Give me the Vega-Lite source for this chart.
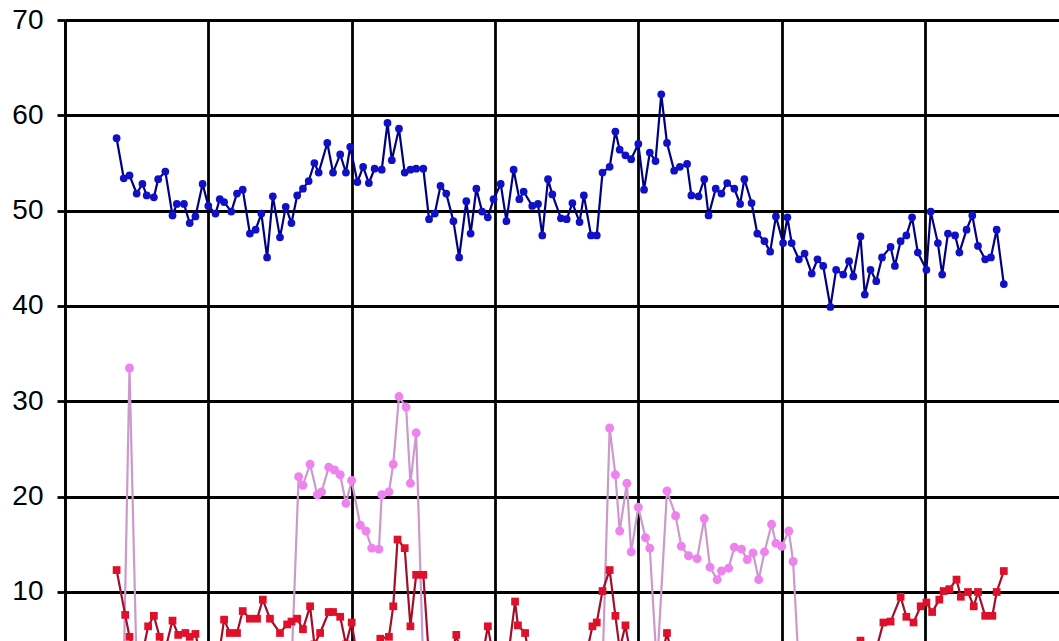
{
  "$schema": "https://vega.github.io/schema/vega-lite/v6.json",
  "autosize": {"type": "none"},
  "width": 994,
  "height": 621,
  "padding": {"left": 65, "top": 20, "right": 0, "bottom": 0},
  "background": "white",
  "config": {"view": {"stroke": null}},
  "datasets": {
    "blue": [
      {"t":3.6,"v":57.6},{"t":4.1,"v":53.4},{"t":4.5,"v":53.7},{"t":5.0,"v":51.8},{"t":5.4,"v":52.8},{"t":5.7,"v":51.6},{"t":6.2,"v":51.4},{"t":6.5,"v":53.3},{"t":7.0,"v":54.1},{"t":7.5,"v":49.5},{"t":7.8,"v":50.7},{"t":8.3,"v":50.7},{"t":8.7,"v":48.7},{"t":9.1,"v":49.4},{"t":9.6,"v":52.8},{"t":10.0,"v":50.5},{"t":10.5,"v":49.7},{"t":10.8,"v":51.2},{"t":11.1,"v":50.9},{"t":11.6,"v":49.9},{"t":12.0,"v":51.8},{"t":12.4,"v":52.2},{"t":12.9,"v":47.6},{"t":13.3,"v":48.0},{"t":13.7,"v":49.7},{"t":14.1,"v":45.1},{"t":14.5,"v":51.5},{"t":15.0,"v":47.2},{"t":15.4,"v":50.4},{"t":15.8,"v":48.7},{"t":16.2,"v":51.6},{"t":16.6,"v":52.3},{"t":17.0,"v":53.1},{"t":17.4,"v":55.0},{"t":17.7,"v":54.0},{"t":18.3,"v":57.1},{"t":18.7,"v":54.0},{"t":19.2,"v":55.9},{"t":19.6,"v":54.0},{"t":19.9,"v":56.7},{"t":20.4,"v":53.0},{"t":20.8,"v":54.6},{"t":21.2,"v":52.9},{"t":21.6,"v":54.4},{"t":22.1,"v":54.3},{"t":22.5,"v":59.2},{"t":22.8,"v":55.3},{"t":23.3,"v":58.6},{"t":23.7,"v":54.0},{"t":24.1,"v":54.3},{"t":24.5,"v":54.4},{"t":25.0,"v":54.4},{"t":25.4,"v":49.1},{"t":25.8,"v":49.7},{"t":26.2,"v":52.6},{"t":26.6,"v":51.8},{"t":27.1,"v":48.9},{"t":27.5,"v":45.1},{"t":28.0,"v":51.0},{"t":28.3,"v":47.6},{"t":28.7,"v":52.3},{"t":29.1,"v":49.9},{"t":29.5,"v":49.3},{"t":29.9,"v":51.2},{"t":30.4,"v":52.8},{"t":30.8,"v":48.9},{"t":31.3,"v":54.3},{"t":31.7,"v":51.2},{"t":32.0,"v":52.0},{"t":32.6,"v":50.5},{"t":33.0,"v":50.7},{"t":33.3,"v":47.4},{"t":33.7,"v":53.3},{"t":34.0,"v":51.7},{"t":34.6,"v":49.2},{"t":35.0,"v":49.1},{"t":35.4,"v":50.8},{"t":35.9,"v":48.8},{"t":36.2,"v":51.6},{"t":36.7,"v":47.4},{"t":37.1,"v":47.4},{"t":37.5,"v":54.0},{"t":38.0,"v":54.6},{"t":38.4,"v":58.3},{"t":38.7,"v":56.4},{"t":39.1,"v":55.8},{"t":39.5,"v":55.4},{"t":40.0,"v":57.0},{"t":40.4,"v":52.2},{"t":40.8,"v":56.1},{"t":41.2,"v":55.2},{"t":41.6,"v":62.2},{"t":42.0,"v":57.1},{"t":42.5,"v":54.2},{"t":42.9,"v":54.6},{"t":43.4,"v":54.9},{"t":43.7,"v":51.6},{"t":44.2,"v":51.5},{"t":44.6,"v":53.3},{"t":44.9,"v":49.5},{"t":45.4,"v":52.3},{"t":45.8,"v":51.8},{"t":46.2,"v":52.9},{"t":46.7,"v":52.3},{"t":47.1,"v":50.7},{"t":47.4,"v":53.3},{"t":47.9,"v":50.8},{"t":48.3,"v":47.6},{"t":48.8,"v":46.8},{"t":49.2,"v":45.7},{"t":49.6,"v":49.4},{"t":50.1,"v":46.6},{"t":50.4,"v":49.3},{"t":50.7,"v":46.6},{"t":51.2,"v":44.9},{"t":51.6,"v":45.5},{"t":52.1,"v":43.4},{"t":52.5,"v":44.9},{"t":52.9,"v":44.2},{"t":53.4,"v":39.9},{"t":53.8,"v":43.8},{"t":54.3,"v":43.3},{"t":54.7,"v":44.7},{"t":55.0,"v":43.1},{"t":55.5,"v":47.3},{"t":55.8,"v":41.2},{"t":56.2,"v":43.8},{"t":56.6,"v":42.6},{"t":57.0,"v":45.1},{"t":57.6,"v":46.2},{"t":57.9,"v":44.2},{"t":58.3,"v":46.8},{"t":58.7,"v":47.4},{"t":59.1,"v":49.3},{"t":59.5,"v":45.6},{"t":60.1,"v":43.8},{"t":60.4,"v":49.9},{"t":60.9,"v":46.6},{"t":61.2,"v":43.3},{"t":61.6,"v":47.6},{"t":62.1,"v":47.4},{"t":62.4,"v":45.6},{"t":62.9,"v":48.0},{"t":63.3,"v":49.5},{"t":63.7,"v":46.3},{"t":64.2,"v":44.9},{"t":64.6,"v":45.1},{"t":65.0,"v":48.0},{"t":65.5,"v":42.3}
    ],
    "violet": [
      {"t":3.6,"v":2},{"t":4.1,"v":2},{"t":4.5,"v":33.5},{"t":5.0,"v":2},{"t":15.8,"v":2},{"t":16.3,"v":22.1},{"t":16.6,"v":21.2},{"t":17.1,"v":23.4},{"t":17.6,"v":20.2},{"t":17.9,"v":20.5},{"t":18.4,"v":23.1},{"t":18.8,"v":22.8},{"t":19.2,"v":22.3},{"t":19.6,"v":19.3},{"t":20.0,"v":21.7},{"t":20.6,"v":17.0},{"t":21.0,"v":16.4},{"t":21.4,"v":14.6},{"t":21.9,"v":14.5},{"t":22.1,"v":20.2},{"t":22.6,"v":20.5},{"t":22.9,"v":23.4},{"t":23.3,"v":30.5},{"t":23.8,"v":29.4},{"t":24.1,"v":21.4},{"t":24.5,"v":26.7},{"t":25.0,"v":2},{"t":37.5,"v":2},{"t":38.0,"v":27.2},{"t":38.4,"v":22.3},{"t":38.7,"v":16.4},{"t":39.2,"v":21.4},{"t":39.5,"v":14.2},{"t":40.0,"v":18.9},{"t":40.5,"v":15.7},{"t":40.8,"v":14.6},{"t":41.3,"v":2},{"t":42.0,"v":20.6},{"t":42.6,"v":18.0},{"t":43.0,"v":14.8},{"t":43.5,"v":13.8},{"t":44.1,"v":13.5},{"t":44.6,"v":17.7},{"t":45.0,"v":12.6},{"t":45.5,"v":11.3},{"t":45.8,"v":12.2},{"t":46.3,"v":12.5},{"t":46.7,"v":14.7},{"t":47.2,"v":14.5},{"t":47.6,"v":13.4},{"t":48.0,"v":14.1},{"t":48.4,"v":11.3},{"t":48.8,"v":14.2},{"t":49.3,"v":17.1},{"t":49.6,"v":15.1},{"t":50.0,"v":14.8},{"t":50.5,"v":16.4},{"t":50.8,"v":13.2},{"t":51.2,"v":2},{"t":65.5,"v":2}
    ],
    "red": [
      {"t":3.6,"v":12.3},{"t":4.2,"v":7.6},{"t":4.5,"v":5.3},{"t":5.0,"v":3},{"t":5.4,"v":3.5},{"t":5.8,"v":6.4},{"t":6.2,"v":7.5},{"t":6.6,"v":5.3},{"t":7.0,"v":4},{"t":7.5,"v":7.0},{"t":7.9,"v":5.5},{"t":8.4,"v":5.7},{"t":8.7,"v":5.3},{"t":9.1,"v":5.6},{"t":9.5,"v":3},{"t":10.7,"v":3},{"t":11.1,"v":7.1},{"t":11.5,"v":5.7},{"t":12.0,"v":5.7},{"t":12.4,"v":8.0},{"t":12.9,"v":7.2},{"t":13.4,"v":7.2},{"t":13.8,"v":9.2},{"t":14.3,"v":7.2},{"t":15.0,"v":5.7},{"t":15.5,"v":6.6},{"t":15.8,"v":6.9},{"t":16.2,"v":7.2},{"t":16.6,"v":6.1},{"t":17.1,"v":8.5},{"t":17.4,"v":4.5},{"t":17.8,"v":5.7},{"t":18.4,"v":7.9},{"t":18.7,"v":7.9},{"t":19.2,"v":7.4},{"t":19.6,"v":4.5},{"t":20.0,"v":6.8},{"t":20.4,"v":3},{"t":21.6,"v":3},{"t":22.0,"v":5.1},{"t":22.6,"v":5.3},{"t":22.9,"v":8.5},{"t":23.2,"v":15.5},{"t":23.7,"v":14.6},{"t":24.1,"v":6.4},{"t":24.5,"v":11.8},{"t":25.0,"v":11.8},{"t":25.4,"v":3},{"t":26.9,"v":3},{"t":27.3,"v":5.5},{"t":27.7,"v":3},{"t":29.1,"v":3},{"t":29.5,"v":6.4},{"t":29.9,"v":3},{"t":30.9,"v":3},{"t":31.4,"v":9.0},{"t":31.6,"v":6.5},{"t":32.1,"v":5.7},{"t":32.4,"v":3},{"t":36.3,"v":3},{"t":36.8,"v":6.4},{"t":37.1,"v":6.8},{"t":37.5,"v":10.1},{"t":38.0,"v":12.3},{"t":38.4,"v":7.5},{"t":38.7,"v":4},{"t":39.1,"v":6.5},{"t":39.5,"v":3},{"t":41.6,"v":3},{"t":42.0,"v":5.7},{"t":42.4,"v":3},{"t":55.1,"v":3},{"t":55.5,"v":4.9},{"t":55.9,"v":3.5},{"t":56.6,"v":4},{"t":57.1,"v":6.8},{"t":57.6,"v":6.9},{"t":58.3,"v":9.5},{"t":58.7,"v":7.4},{"t":59.2,"v":6.8},{"t":59.7,"v":8.5},{"t":60.1,"v":8.9},{"t":60.5,"v":7.9},{"t":61.0,"v":9.2},{"t":61.3,"v":10.1},{"t":61.7,"v":10.3},{"t":62.2,"v":11.3},{"t":62.5,"v":9.5},{"t":63.0,"v":10.0},{"t":63.4,"v":8.5},{"t":63.7,"v":10.0},{"t":64.2,"v":7.5},{"t":64.7,"v":7.5},{"t":65.0,"v":10.0},{"t":65.5,"v":12.2}
    ]
  },
  "encoding": {
    "x": {"field": "t", "type": "quantitative", "scale": {"domain": [0, 69.35], "nice": false, "zero": false},
      "axis": {"values": [0,10,20,30,40,50,60], "title": null, "labels": false, "ticks": false, "domain": false, "grid": true, "gridColor": "black", "gridWidth": 2.8, "gridOpacity": 1}},
    "y": {"field": "v", "type": "quantitative", "scale": {"domain": [4.86, 70], "nice": false, "zero": false},
      "axis": {"values": [10,20,30,40,50,60,70], "title": null, "grid": true, "gridColor": "black", "gridWidth": 2.8, "gridOpacity": 1,
        "domain": true, "domainColor": "black", "domainWidth": 2.8, "ticks": true, "tickSize": 8, "tickColor": "black", "tickWidth": 2.8,
        "labelFont": "Liberation Sans", "labelFontSize": 28, "labelColor": "black", "labelPadding": 14}}
  },
  "layer": [
    {"data": {"name": "violet"}, "mark": {"type": "line", "color": "#cc99cc", "strokeWidth": 2.2, "clip": true}, "encoding": {}},
    {"data": {"name": "violet"}, "mark": {"type": "circle", "color": "#ee82ee", "size": 80, "opacity": 1, "clip": true}, "encoding": {}},
    {"data": {"name": "red"}, "mark": {"type": "line", "color": "#a0102a", "strokeWidth": 2.2, "clip": true}, "encoding": {}},
    {"data": {"name": "red"}, "mark": {"type": "square", "color": "#e0102a", "size": 60, "opacity": 1, "clip": true}, "encoding": {}},
    {"data": {"name": "blue"}, "mark": {"type": "line", "color": "#000080", "strokeWidth": 2.2, "clip": true}, "encoding": {}},
    {"data": {"name": "blue"}, "mark": {"type": "circle", "color": "#1010c8", "size": 60, "opacity": 1, "clip": true}, "encoding": {}}
  ]
}
